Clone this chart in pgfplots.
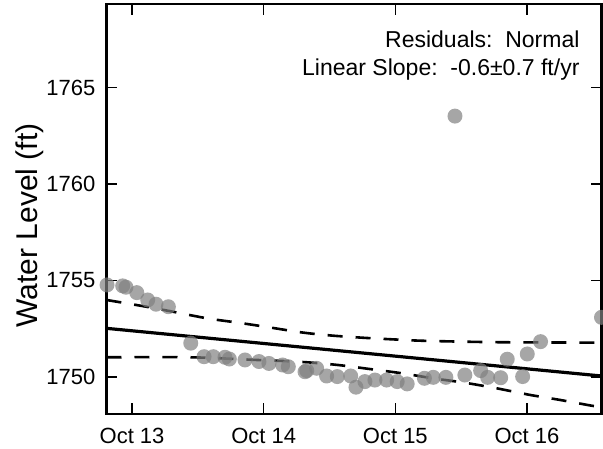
\documentclass[border=0pt]{standalone}
\usepackage{pgfplots}
\pgfplotsset{compat=1.18}
\usepackage{fontspec}
\setmainfont{Liberation Sans}

% water level readings, x = days after Oct 13
\pgfplotstableread{
x y
-0.190 1754.77
-0.071 1754.72
-0.046 1754.65
0.036 1754.37
0.119 1753.99
0.182 1753.77
0.276 1753.64
0.446 1751.75
0.547 1751.05
0.617 1751.05
0.706 1751.02
0.739 1750.93
0.858 1750.88
0.964 1750.80
1.040 1750.70
1.144 1750.62
1.187 1750.53
1.314 1750.27
1.327 1750.33
1.402 1750.45
1.478 1750.05
1.559 1750.02
1.661 1750.05
1.701 1749.47
1.769 1749.76
1.845 1749.84
1.934 1749.84
2.014 1749.76
2.090 1749.64
2.221 1749.93
2.288 1749.98
2.384 1749.98
2.453 1763.52
2.528 1750.10
2.648 1750.33
2.701 1749.98
2.800 1749.96
2.850 1750.92
2.967 1750.02
3.002 1751.19
3.103 1751.83
3.566 1753.09
}\levels

\begin{document}
\begin{tikzpicture}
\path[use as bounding box] (-106.5pt,-34pt) rectangle (496.5pt,414pt);
\begin{axis}[
    at={(0,0)}, anchor=south west,
    scale only axis, width=495pt, height=410pt,
    xmin=-0.194, xmax=3.566,
    ymin=1748.08, ymax=1769.33,
    xtick={0,1,2,3},
    xticklabels={Oct 13,Oct 14,Oct 15,Oct 16},
    ytick={1750,1755,1760,1765},
    yticklabels={1750,1755,1760,1765},
    scaled y ticks=false,
    tick align=inside,
    major tick length=11pt,
    every tick/.style={black, line width=1.3pt},
    axis line style={line width=2.6pt},
    ticklabel style={font=\fontsize{22}{26}\selectfont},
    yticklabel style={inner sep=0pt, xshift=-11pt},
    xticklabel style={inner sep=0pt, yshift=-14pt},
    ylabel={Water Level (ft)},
    ylabel style={font=\fontsize{30}{36}\selectfont, at={(axis description cs:-0.1545,0.46)}, anchor=center, rotate=0},
    clip=true,
]
\addplot[only marks, mark=*, mark size=7.5pt,
    mark options={draw opacity=0, fill=gray, fill opacity=0.7}] table {\levels};
% linear fit
\addplot[black, line width=3.2pt] coordinates {(-0.194,1752.52) (3.566,1750.05)};
% confidence bounds
\addplot[black, line width=2.6pt, dash pattern=on 15pt off 13pt, smooth] coordinates {
(-0.194,1753.99) (0.100,1753.65) (0.342,1753.34) (0.577,1753.03) (0.820,1752.80)
(1.033,1752.58) (1.298,1752.30) (1.526,1752.14) (1.784,1752.02) (2.035,1751.93)
(2.240,1751.87) (2.794,1751.80) (3.566,1751.78)};
\addplot[black, line width=2.6pt, dash pattern=on 15pt off 13pt, smooth] coordinates {
(-0.194,1751.02) (0.440,1751.02) (0.949,1750.88) (1.071,1750.85) (1.329,1750.76)
(1.564,1750.62) (1.807,1750.41) (2.050,1750.19) (2.285,1749.93) (2.528,1749.70)
(2.771,1749.41) (3.022,1749.07) (3.250,1748.81) (3.500,1748.50) (3.566,1748.45)};
\node[anchor=base east, font=\fontsize{23}{28}\selectfont] at (axis description cs:0.9626,0.895) {Residuals:\ \ Normal};
\node[anchor=base east, font=\fontsize{23}{28}\selectfont] at (axis description cs:0.9626,0.8244) {Linear Slope:\ \ -0.6±0.7 ft/yr};
\end{axis}
\end{tikzpicture}
\end{document}
